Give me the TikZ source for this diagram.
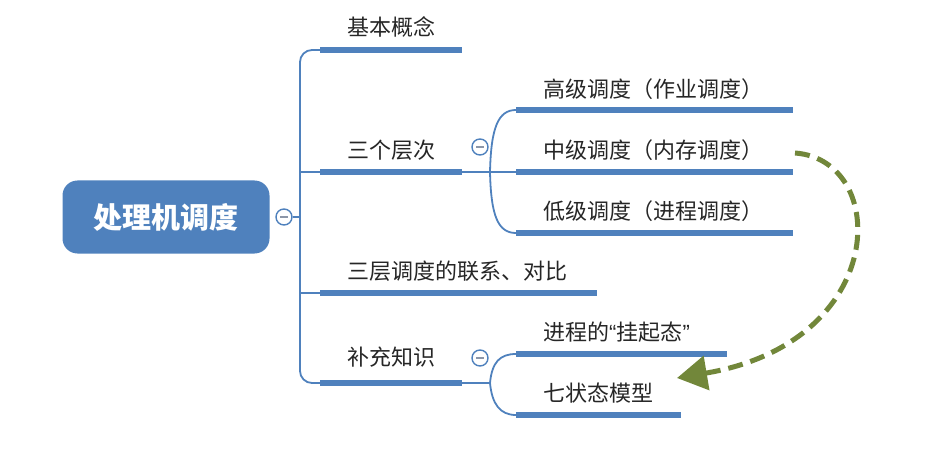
\documentclass[tikz,border=0pt]{standalone}
\usepackage{fontspec}
\newfontfamily\cjk{Noto Sans CJK SC}
\newfontfamily\latq{Liberation Sans}
\usetikzlibrary{arrows.meta}
\definecolor{mblue}{HTML}{4F81BD}
\definecolor{mgreen}{HTML}{72873A}
\definecolor{mgray}{HTML}{8C96A8}
\begin{document}
\begin{tikzpicture}[x=1pt,y=-1pt,
  root/.style={fill=mblue, rounded corners=15pt, minimum width=207pt, minimum height=73pt,
    text=white, inner sep=0pt, font=\cjk\bfseries\fontsize{29}{32}\selectfont},
  lbl/.style={anchor=west, inner sep=0pt, text=black!85, font=\cjk\fontsize{22}{24}\selectfont},
  tog/.style={circle, draw=mblue, line width=1.4pt, fill=white, minimum size=16pt, inner sep=0pt},
  minus/.style={draw=mgray, line width=1.3pt},
  ul/.style={draw=mblue, line width=6pt},
  conn/.style={draw=mblue, line width=1.8pt},
  jump/.style={draw=mgreen, line width=5pt, dash pattern=on 15pt off 8pt,
    -{Triangle[length=30pt,width=34pt]}}
]
\useasboundingbox (0,0) rectangle (947,473);

% root
\node[root] (root) at (166,217) {处理机调度};
\node[tog] (t0) at (284,217) {};
\draw[minus] ([xshift=-4pt]t0.center) -- ([xshift=4pt]t0.center);

% first-level labels
\node[lbl] (b1) at (347,27) {基本概念};
\node[lbl] (b2) at (347,150) {三个层次};
\node[lbl] (b3) at (347,271) {三层调度的联系、对比};
\node[lbl] (b4) at (347,357) {补充知识};

% first-level underline coordinates
\coordinate (u1a) at (320,50);  \coordinate (u1b) at (462,50);
\coordinate (u2a) at (320,172); \coordinate (u2b) at (462,172);
\coordinate (u3a) at (320,293); \coordinate (u3b) at (597,293);
\coordinate (u4a) at (320,383); \coordinate (u4b) at (462,383);
\coordinate (vx) at (300,217);

% main trunk
\draw[conn] (t0.east) -- (vx);
\draw[conn, rounded corners=12pt] (u1a) -- (300,50) -- (300,383) -- (u4a);
\draw[conn] (300,172) -- (u2a);
\draw[conn] (300,293) -- (u3a);
\draw[ul] (u1a) -- (u1b);
\draw[ul] (u2a) -- (u2b);
\draw[ul] (u3a) -- (u3b);
\draw[ul] (u4a) -- (u4b);

% toggles of sub-branches
\node[tog] (t2) at (480,147) {};
\draw[minus] ([xshift=-4pt]t2.center) -- ([xshift=4pt]t2.center);
\node[tog] (t4) at (480,358) {};
\draw[minus] ([xshift=-4pt]t4.center) -- ([xshift=4pt]t4.center);

% second-level (三个层次)
\node[lbl] (c1) at (543,89) {高级调度（作业调度）};
\node[lbl] (c2) at (543,150) {中级调度（内存调度）};
\node[lbl] (c3) at (543,211) {低级调度（进程调度）};
\coordinate (v1a) at (516,110); \coordinate (v1b) at (793,110);
\coordinate (v2a) at (516,172); \coordinate (v2b) at (793,172);
\coordinate (v3a) at (516,233); \coordinate (v3b) at (793,233);
\coordinate (s2) at (490,172);
\draw[conn] (u2b) -- (v2a);
\draw[conn] (s2) .. controls (491,128) and (498,110) .. (v1a);
\draw[conn] (s2) .. controls (491,216) and (498,233) .. (v3a);
\draw[ul] (v1a) -- (v1b);
\draw[ul] (v2a) -- (v2b);
\draw[ul] (v3a) -- (v3b);

% second-level (补充知识)
\node[lbl] (d1) at (543,332) {进程的{\latq “}挂起态{\latq ”}};
\node[lbl] (d2) at (543,393) {七状态模型};
\coordinate (w1a) at (516,354); \coordinate (w1b) at (727,354);
\coordinate (w2a) at (516,415); \coordinate (w2b) at (681,415);
\coordinate (s4) at (490,383);
\draw[conn] (u4b) -- (s4);
\draw[conn] (s4) .. controls (492,362) and (500,354) .. (w1a);
\draw[conn] (s4) .. controls (492,404) and (500,415) .. (w2a);
\draw[ul] (w1a) -- (w1b);
\draw[ul] (w2a) -- (w2b);

% dashed green arrow
\coordinate (ga) at (795,153);
\coordinate (gb) at (677,378);
\draw[jump] (ga) .. controls (890,160) and (890,342) .. (gb);
\end{tikzpicture}
\end{document}
